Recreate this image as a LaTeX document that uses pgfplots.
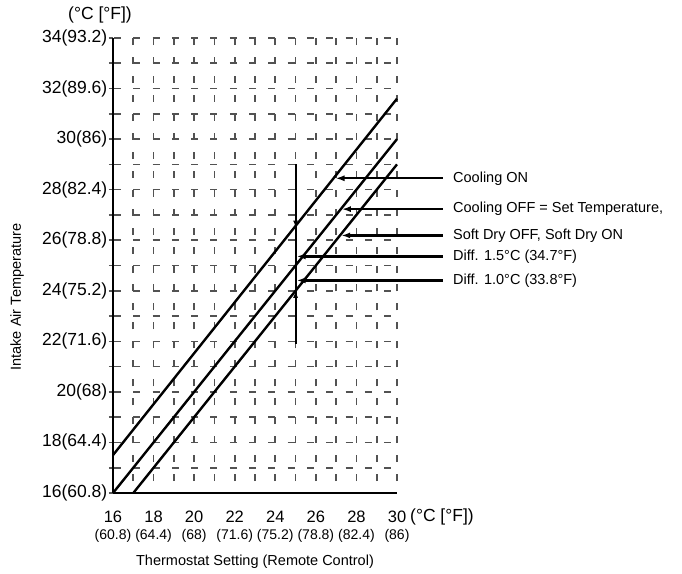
\documentclass[border=0pt]{standalone}
\usepackage{pgfplots}
\pgfplotsset{compat=1.18}
\usetikzlibrary{arrows.meta}
\usepackage{fontspec}
\setmainfont{Liberation Sans}
\newcommand{\xl}[2]{#1\\{\fontsize{14}{17}\selectfont(#2)}}
\begin{document}
\begin{tikzpicture}
\useasboundingbox (-113pt,-80pt) rectangle (569pt,493pt);
\begin{axis}[
  at={(0pt,0pt)}, anchor=south west,
  scale only axis, width=284pt, height=455pt,
  xmin=16, xmax=30, ymin=16, ymax=34,
  axis x line=bottom, axis y line=left,
  axis line style={-, line width=2.8pt, black},
  clip=false,
  xtick={16,...,30},
  xticklabels={\xl{16}{60.8},,\xl{18}{64.4},,\xl{20}{68},,\xl{22}{71.6},,\xl{24}{75.2},,\xl{26}{78.8},,\xl{28}{82.4},,\xl{30}{86}},
  xticklabel style={align=center, inner sep=0pt, yshift=-14pt, font=\fontsize{16.5}{17}\selectfont},
  xtick style={draw=none},
  ytick={16,...,34},
  yticklabels={16(60.8),,18(64.4),,20(68),,22(71.6),,24(75.2),,26(78.8),,28(82.4),,30(86),,32(89.6),,34(93.2)},
  yticklabel style={font=\fontsize{17.5}{19}\selectfont, inner sep=0pt, xshift=-1.5pt},
  ytick style={black!65, line width=1.6pt},
  tick align=outside, major tick length=4pt,
  grid=major,
  x grid style={black!68, line width=1.6pt, dash pattern=on 7pt off 11.958pt, dash phase=7pt},
  y grid style={black!68, line width=1.6pt, dash pattern=on 7pt off 12.3pt, dash phase=18.31pt},
]
\addplot[black, line width=2.4pt] coordinates {(16,17.5) (30,31.6)};
\addplot[black, line width=2.4pt] coordinates {(16,16) (30,30)};
\addplot[black, line width=2.4pt] coordinates {(17,16) (30,29)};
\addplot[black, line width=2pt] coordinates {(25,29) (25,21.9)};
\addplot[black, line width=2pt, -{Latex[length=7pt,width=5pt]}] coordinates {(25,29) (25,26.5)};
\addplot[black, line width=2pt, -{Latex[length=7pt,width=5pt]}] coordinates {(25,21.9) (25,24)};
\addplot[black, line width=2.4pt, -{Latex[length=9pt,width=6pt]}] coordinates {(32.26,28.45) (26.97,28.45)};
\addplot[black, line width=2.4pt, -{Latex[length=9pt,width=6pt]}] coordinates {(32.26,27.23) (27.28,27.23)};
\addplot[black, line width=2.4pt, -{Latex[length=9pt,width=6pt]}] coordinates {(32.26,26.19) (27.25,26.19)};
\addplot[black, line width=2.4pt, -{Latex[length=9pt,width=6pt]}] coordinates {(32.26,25.36) (25.05,25.36)};
\addplot[black, line width=2.4pt, -{Latex[length=9pt,width=6pt]}] coordinates {(32.26,24.41) (25.05,24.41)};
\begin{scope}[every node/.style={font=\fontsize{14.5}{17}\selectfont, inner sep=0pt}]
\node[anchor=west] at (axis cs:32.76,28.45) {Cooling ON};
\node[anchor=west] at (axis cs:32.76,27.23) {Cooling OFF = Set Temperature,};
\node[anchor=west] at (axis cs:32.76,26.19) {Soft Dry OFF, Soft Dry ON};
\node[anchor=west] at (axis cs:32.76,25.36) {Diff. 1.5°C (34.7°F)};
\node[anchor=west] at (axis cs:32.76,24.41) {Diff. 1.0°C (33.8°F)};
\node at (axis cs:23,13.27) {Thermostat Setting (Remote Control)};
\node[rotate=90] at (axis cs:11.27,23.75) {Intake Air Temperature};
\end{scope}
\node[font=\fontsize{17.5}{19}\selectfont, inner sep=0pt] at (axis cs:15.36,34.91) {(°C [°F])};
\node[font=\fontsize{17.5}{19}\selectfont, inner sep=0pt, anchor=west] at (axis cs:30.64,15.05) {(°C [°F])};
\end{axis}
\end{tikzpicture}
\end{document}
